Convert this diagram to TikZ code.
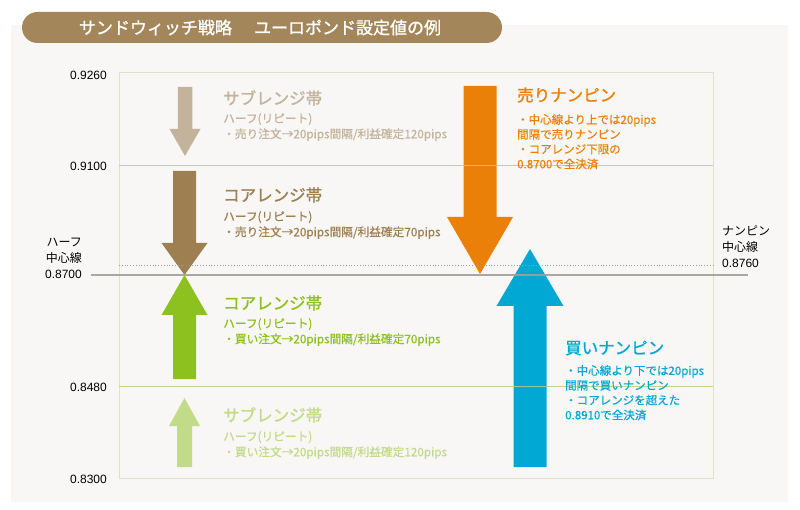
\documentclass[tikz,border=0pt]{standalone}
\usepackage{fontspec}
\setmainfont{Liberation Sans}
\newfontfamily\jpr{Noto Sans CJK JP}
\newfontfamily\jp[FakeBold=0.5]{Noto Sans CJK JP}
\newfontfamily\jpb[FakeBold=1.2]{Noto Sans CJK JP}
\usepackage{tikz}
\definecolor{panelbg}{HTML}{F8F7F5}
\definecolor{titlebg}{HTML}{A3865A}
\definecolor{framecol}{HTML}{DCE3C6}
\definecolor{bandgreen}{HTML}{B3CF86}
\definecolor{halfgray}{HTML}{A29F99}
\definecolor{subsell}{HTML}{C3B39A}
\definecolor{coresell}{HTML}{9E7F52}
\definecolor{corebuy}{HTML}{8CC11F}
\definecolor{subbuy}{HTML}{C1DB88}
\definecolor{sellnanpin}{HTML}{EA8008}
\definecolor{buynanpin}{HTML}{00A8D3}
\tikzstyle{axislabel}=[anchor=east, inner sep=0pt, font=\fontsize{12}{14}\selectfont]
\tikzstyle{sidelabel}=[inner sep=0pt, font=\fontsize{12}{16}\selectfont]
\tikzstyle{bandtitle}=[anchor=west, inner sep=0pt, font=\jpb\fontsize{16.5}{18}\selectfont]
\tikzstyle{bandtext}=[anchor=north west, inner sep=0pt, align=left, font=\jp\fontsize{11.7}{15.5}\selectfont]
\tikzstyle{nanpintext}=[anchor=north west, inner sep=0pt, align=left, font=\jp\fontsize{11.5}{14.8}\selectfont]
\newcommand{\blockarrow}[7]{\fill[#1] ({#2-#3},#5) -- ({#2+#3},#5) -- ({#2+#3},#6) -- ({#2+#4},#6) -- (#2,#7) -- ({#2-#4},#6) -- ({#2-#3},#6) -- cycle;}

\begin{document}
\begin{tikzpicture}[x=1pt,y=-1pt]
    \useasboundingbox (0,0) rectangle (800,510);
    \fill[panelbg] (11,25) rectangle (788,502);
    \fill[titlebg, rounded corners=15.5pt] (22,12) rectangle (502,43);
    \node [inner sep=0pt, text=white, font=\jpb\fontsize{17}{19}\selectfont] (title) at (260,27.5) {サンドウィッチ戦略\hspace{1.3em}ユーロポンド設定値の例};
    \draw [framecol, line width=1pt] (119,73) rectangle (713,478);
    \blockarrow{subsell}{185}{7.25}{15.5}{87}{129}{156}
    \blockarrow{coresell}{184.5}{11.5}{23}{171}{243}{275}
    \blockarrow{corebuy}{184.5}{11.5}{23}{379}{315}{275}
    \blockarrow{subbuy}{184.5}{7.5}{15.5}{467}{426}{398}
    \blockarrow{sellnanpin}{480}{16.5}{33}{86}{217}{274}
    \blockarrow{buynanpin}{530}{16.5}{33.5}{467}{306}{249}
    \draw [bandgreen, line width=1pt, opacity=.85] (119,166) -- (713,166);
    \draw [bandgreen, line width=1pt, opacity=.85] (119,386) -- (713,386);
    \draw [halfgray, dotted, line width=.8pt] (119,265) -- (713,265);
    \draw [halfgray, line width=1.5pt, opacity=.9] (91,275) -- (748,275);
    \node [axislabel] (p9260) at (107,75) {0.9260};
    \node [axislabel] (p9100) at (107,166) {0.9100};
    \node [axislabel] (p8480) at (107,387) {0.8480};
    \node [axislabel] (p8300) at (107,479) {0.8300};
    \node [sidelabel, anchor=south east, align=right] (halfmid) at (82,279) {{\jpr ハーフ}\\{\jpr 中心線}\\0.8700};
    \node [sidelabel, anchor=south west, align=left] (nanpinmid) at (722,268) {{\jpr ナンピン}\\{\jpr 中心線}\\0.8760};
    \node [bandtitle, text=subsell] (subselltitle) at (223,98) {サブレンジ帯};
    \node [bandtext, text=subsell] (subselltext) at (223,113) {ハーフ(リピート)\\・売り注文→20pips間隔/利益確定120pips};
    \node [bandtitle, text=coresell] (coreselltitle) at (223,195) {コアレンジ帯};
    \node [bandtext, text=coresell] (coreselltext) at (223,211) {ハーフ(リピート)\\・売り注文→20pips間隔/利益確定70pips};
    \node [bandtitle, text=corebuy] (corebuytitle) at (223,303) {コアレンジ帯};
    \node [bandtext, text=corebuy] (corebuytext) at (223,318) {ハーフ(リピート)\\・買い注文→20pips間隔/利益確定70pips};
    \node [bandtitle, text=subbuy] (subbuytitle) at (223,415) {サブレンジ帯};
    \node [bandtext, text=subbuy] (subbuytext) at (223,431) {ハーフ(リピート)\\・買い注文→20pips間隔/利益確定120pips};
    \node [bandtitle, text=sellnanpin] (selltitle) at (517,95) {売りナンピン};
    \node [nanpintext, text=sellnanpin] (selltext) at (517,114) {・中心線より上では20pips\\間隔で売りナンピン\\・コアレンジ下限の\\0.8700で全決済};
    \node [bandtitle, text=buynanpin] (buytitle) at (565,348) {買いナンピン};
    \node [nanpintext, text=buynanpin] (buytext) at (565,365) {・中心線より下では20pips\\間隔で買いナンピン\\・コアレンジを超えた\\0.8910で全決済};
\end{tikzpicture}
\end{document}
